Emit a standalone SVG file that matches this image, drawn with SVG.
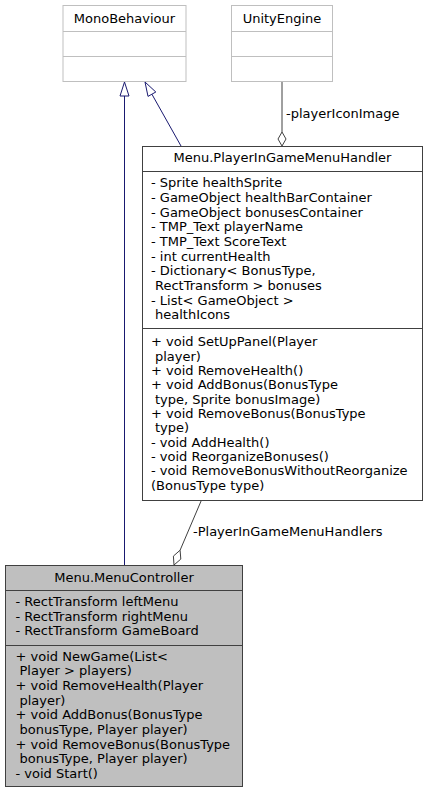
<svg xmlns="http://www.w3.org/2000/svg" width="428" height="793" viewBox="0 0 428 793">
<style>
text{font-family:"DejaVu Sans",sans-serif;font-size:13px;fill:#000}
.c{text-anchor:middle}
.ext{fill:#fff;stroke:#bfbfbf;stroke-width:1}
.cls{fill:#fff;stroke:#404040;stroke-width:1}
.cur{fill:#bfbfbf;stroke:#404040;stroke-width:1}
.extl{stroke:#bfbfbf;stroke-width:1}
.clsl{stroke:#404040;stroke-width:1}
.inh{fill:none;stroke:#191970;stroke-width:1}
.inhh{fill:#fff;stroke:#191970;stroke-width:1}
.agg{fill:none;stroke:#404040;stroke-width:1}
.aggh{fill:#fff;stroke:#404040;stroke-width:1}
</style>
<rect width="428" height="793" fill="#fff"/>
<g id="MonoBehaviour">
<rect class="ext" x="63" y="5.5" width="123" height="76"/>
<text class="c" x="124.5" y="22.5">MonoBehaviour</text>
<line class="extl" x1="63" y1="31.5" x2="186" y2="31.5"/>
<line class="extl" x1="63" y1="56.5" x2="186" y2="56.5"/>
</g>
<g id="UnityEngine">
<rect class="ext" x="231.5" y="5.5" width="101" height="76"/>
<text class="c" x="282" y="22.5">UnityEngine</text>
<line class="extl" x1="231.5" y1="31.5" x2="332.5" y2="31.5"/>
<line class="extl" x1="231.5" y1="56.5" x2="332.5" y2="56.5"/>
</g>
<g id="PlayerInGameMenuHandler">
<rect class="cls" x="142.5" y="146.5" width="280" height="354"/>
<text class="c" x="282.5" y="162">Menu.PlayerInGameMenuHandler</text>
<line class="clsl" x1="142.5" y1="171.5" x2="422.5" y2="171.5"/>
<text x="151" y="187.2">- Sprite healthSprite</text>
<text x="151" y="201.9">- GameObject healthBarContainer</text>
<text x="151" y="216.5">- GameObject bonusesContainer</text>
<text x="151" y="231.2">- TMP_Text playerName</text>
<text x="151" y="245.9">- TMP_Text ScoreText</text>
<text x="151" y="260.5">- int currentHealth</text>
<text x="151" y="275.2">- Dictionary&lt; BonusType,</text>
<text x="155" y="289.9">RectTransform &gt; bonuses</text>
<text x="151" y="304.5">- List&lt; GameObject &gt;</text>
<text x="155" y="319.2">healthIcons</text>
<line class="clsl" x1="142.5" y1="328.5" x2="422.5" y2="328.5"/>
<text x="151" y="346.2">+ void SetUpPanel(Player</text>
<text x="155" y="360.5">player)</text>
<text x="151" y="374.9">+ void RemoveHealth()</text>
<text x="151" y="389.2">+ void AddBonus(BonusType</text>
<text x="155" y="403.6">type, Sprite bonusImage)</text>
<text x="151" y="417.9">+ void RemoveBonus(BonusType</text>
<text x="155" y="432.3">type)</text>
<text x="151" y="446.6">- void AddHealth()</text>
<text x="151" y="461">- void ReorganizeBonuses()</text>
<text x="151" y="475.3">- void RemoveBonusWithoutReorganize</text>
<text x="151" y="489.7">(BonusType type)</text>
</g>
<g id="MenuController">
<rect class="cur" x="5.5" y="565.5" width="237" height="221"/>
<text class="c" x="124" y="581.5">Menu.MenuController</text>
<line class="clsl" x1="5.5" y1="590.5" x2="242.5" y2="590.5"/>
<text x="15.5" y="606.2">- RectTransform leftMenu</text>
<text x="15.5" y="620.5">- RectTransform rightMenu</text>
<text x="15.5" y="634.8">- RectTransform GameBoard</text>
<line class="clsl" x1="5.5" y1="645.5" x2="242.5" y2="645.5"/>
<text x="15.5" y="660.5">+ void NewGame(List&lt;</text>
<text x="19.5" y="675.2">Player &gt; players)</text>
<text x="15.5" y="689.8">+ void RemoveHealth(Player</text>
<text x="19.5" y="704.5">player)</text>
<text x="15.5" y="719.2">+ void AddBonus(BonusType</text>
<text x="19.5" y="733.8">bonusType, Player player)</text>
<text x="15.5" y="748.5">+ void RemoveBonus(BonusType</text>
<text x="19.5" y="763.2">bonusType, Player player)</text>
<text x="15.5" y="777.8">- void Start()</text>
</g>
<g id="connectors">
<line class="inh" x1="124.5" y1="565" x2="124.5" y2="96"/>
<polygon class="inhh" points="120,96 124.5,82 129,96"/>
<line class="inh" x1="181" y1="146" x2="151.9" y2="94.2"/>
<polygon class="inhh" points="148,96.4 145,82 155.8,92"/>
<line class="agg" x1="282" y1="82" x2="282" y2="132"/>
<polygon class="aggh" points="282,132 286,139 282,146 278,139"/>
<text x="286" y="118">-playerIconImage</text>
<line class="agg" x1="201.5" y1="500" x2="180.1" y2="550.2"/>
<polygon class="aggh" points="180.1,550.2 180.8,559.1 174,565 173.4,556.1"/>
<text x="193" y="535.5">-PlayerInGameMenuHandlers</text>
</g>
</svg>
